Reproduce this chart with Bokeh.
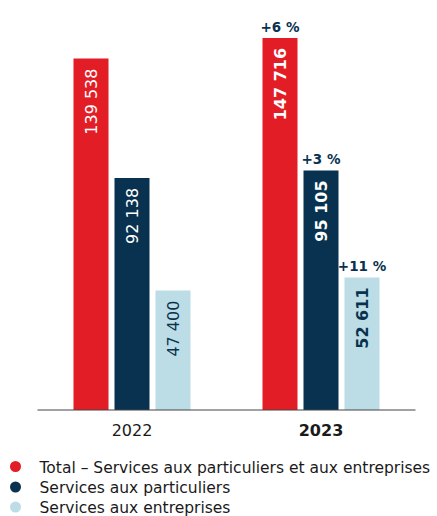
import numpy as np
from bokeh.plotting import figure
from bokeh.models import ColumnDataSource, Range1d
from bokeh.core.properties import value
from bokeh.embed import file_html
from bokeh.resources import INLINE

# ---- data ----
years = ["2022", "2023"]
series_names = [
    "Total – Services aux particuliers et aux entreprises",
    "Services aux particuliers",
    "Services aux entreprises",
]
total = [139538, 147716]
particuliers = [92138, 95105]
entreprises = [47400, 52611]
growth_2023 = ["+6 %", "+3 %", "+11 %"]

colors = ["#e31d25", "#08324f", "#bcdde5"]
label_colors = ["#ffffff", "#ffffff", "#08324f"]
FONT = "DejaVu Sans"

W, H = 437, 516
# layout: one year group = 189 px; group 0 starts 37 px from left;
# value 0 sits 409.5 px from top; 397 value units per pixel
unit = 189.0
x0_px = 37.0
y0_px = 409.5
y_scale = 397.0
x_start = -x0_px / unit
x_end = x_start + W / unit
y_end = y0_px * y_scale
y_start = y_end - H * y_scale

def px_x(px):
    return x_start + px / unit

def px_y(py):
    return (y0_px - py) * y_scale

p = figure(width=W, height=H, output_backend="svg", toolbar_location=None,
           x_range=Range1d(x_start, x_end), y_range=Range1d(y_start, y_end),
           x_axis_location=None, y_axis_location=None, min_border=0)
p.outline_line_color = None
p.grid.visible = False
p.background_fill_color = "white"
p.border_fill_color = "white"

centers = np.arange(len(years)) + 0.5
offsets = np.array([-41, 0, 41]) / unit
bar_w = 35 / unit
values = [total, particuliers, entreprises]

def fmt(v):
    return f"{v:,}".replace(",", " ")

for i, vals in enumerate(values):
    xs = centers + offsets[i]
    src = ColumnDataSource(dict(x=xs, top=vals))
    p.vbar(x="x", top="top", width=bar_w, bottom=0, source=src,
           fill_color=colors[i], line_color=None)
    # value labels (2022 normal, 2023 bold)
    for j, style in enumerate(["normal", "bold"]):
        s2 = ColumnDataSource(dict(x=[xs[j]], y=[vals[j]], t=[fmt(vals[j])]))
        p.text(x="x", y="y", text="t", source=s2, angle=np.pi / 2,
               text_align="right", text_baseline="middle", y_offset=10,
               text_font=value(FONT), text_font_size="16px",
               text_font_style=style, text_color=label_colors[i])

# growth labels above 2023 bars
gx = [centers[1] + o for o in offsets]
gy = [v[1] for v in values]
p.text(x=gx, y=gy, text=growth_2023, text_align="center",
       text_baseline="alphabetic", y_offset=-11,
       text_font=value(FONT), text_font_size="13.5px",
       text_font_style="bold", text_color="#08324f")

# baseline axis
p.segment(x0=[0], y0=[0], x1=[len(years)], y1=[0], line_color="#444444",
          line_width=1)

# year labels
for j, style in enumerate(["normal", "bold"]):
    p.text(x=[centers[j]], y=[0], text=[years[j]], text_align="center",
           text_baseline="middle", y_offset=20, text_font=value(FONT),
           text_font_size="16px", text_font_style=style,
           text_color="#1a1a1a")

# legend (manual: dots + labels)
row_px = [466.0, 486.5, 506.5]
p.scatter(x=[px_x(15)] * 3, y=[px_y(r) for r in row_px], marker="circle",
          size=11, fill_color=colors, line_color=None)
p.text(x=[px_x(39)] * 3, y=[px_y(r + 1) for r in row_px], text=series_names,
       text_align="left", text_baseline="middle", text_font=value(FONT),
       text_font_size="15.5px", text_color="#1a1a1a")

open("out.html", "w").write(file_html(p, INLINE))
